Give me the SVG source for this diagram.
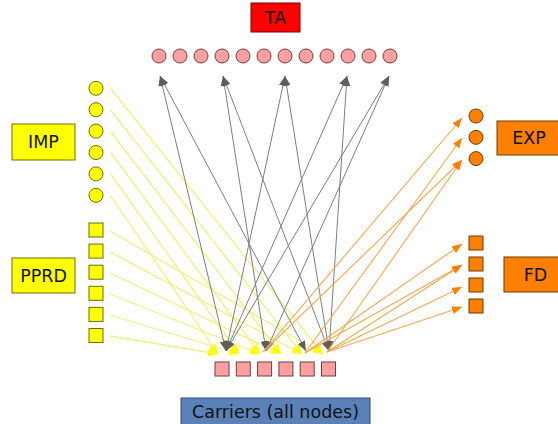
<svg xmlns="http://www.w3.org/2000/svg" width="558" height="424" viewBox="0 0 558 424">
  <style>
    .lbl { font-family: "DejaVu Sans", "Liberation Sans", sans-serif; font-size: 17.5px; fill: #111; text-anchor: middle; }
    .ta-node { fill: #ffa0a0; stroke: #7a3a3a; stroke-width: 1; }
    .car-node { fill: #ffa0a0; stroke: #6a4040; stroke-width: 1; }
    .imp-node { fill: #ffff00; stroke: #6e6e00; stroke-width: 1; }
    .exp-node { fill: #ff8000; stroke: #6e3a00; stroke-width: 1; }
    .y-edge { stroke: #f2ee82; stroke-width: 1.3; fill: none; marker-end: url(#ahY); }
    .g-edge { stroke: #7e7e7e; stroke-width: 1; fill: none; marker-end: url(#ahG); marker-start: url(#ahG); }
    .o-edge { stroke: #f2a950; stroke-width: 1.1; fill: none; marker-end: url(#ahO); }
  </style>
  <defs>
    <marker id="ahY" viewBox="0 0 10 8" refX="10" refY="4" markerWidth="10" markerHeight="8" markerUnits="userSpaceOnUse" orient="auto">
      <path d="M0,0 L10,4 L0,8 z" fill="#ffff00"/>
    </marker>
    <marker id="ahG" viewBox="0 0 10 8" refX="10" refY="4" markerWidth="10" markerHeight="8" markerUnits="userSpaceOnUse" orient="auto-start-reverse">
      <path d="M0,0 L10,4 L0,8 z" fill="#5e5e5e"/>
    </marker>
    <marker id="ahO" viewBox="0 0 10 8" refX="10" refY="4" markerWidth="10" markerHeight="8" markerUnits="userSpaceOnUse" orient="auto">
      <path d="M0,0 L10,4 L0,8 z" fill="#ff8000"/>
    </marker>
  </defs>

  <!-- connectors -->
  <g id="connectors">
    <!-- IMP -> carriers -->
    <line class="y-edge" x1="111" y1="89" x2="323" y2="354"/>
    <line class="y-edge" x1="111" y1="110.5" x2="302" y2="354"/>
    <line class="y-edge" x1="111" y1="132" x2="281" y2="354"/>
    <line class="y-edge" x1="111" y1="153" x2="260" y2="354"/>
    <line class="y-edge" x1="111" y1="174.5" x2="239" y2="354"/>
    <line class="y-edge" x1="111" y1="196" x2="218" y2="354"/>
    <!-- PPRD -> carriers -->
    <line class="y-edge" x1="110" y1="231" x2="323" y2="354"/>
    <line class="y-edge" x1="110" y1="252" x2="302" y2="354"/>
    <line class="y-edge" x1="110" y1="273" x2="281" y2="354"/>
    <line class="y-edge" x1="110" y1="294" x2="260" y2="354"/>
    <line class="y-edge" x1="110" y1="315" x2="239" y2="354"/>
    <line class="y-edge" x1="110" y1="336" x2="218" y2="354"/>
    <!-- carriers <-> TA -->
    <line class="g-edge" x1="226" y1="351" x2="160" y2="76"/>
    <line class="g-edge" x1="306" y1="351" x2="160" y2="76"/>
    <line class="g-edge" x1="266" y1="351" x2="223" y2="76"/>
    <line class="g-edge" x1="329" y1="351" x2="223" y2="76"/>
    <line class="g-edge" x1="226" y1="351" x2="285" y2="76"/>
    <line class="g-edge" x1="329" y1="351" x2="285" y2="76"/>
    <line class="g-edge" x1="226" y1="351" x2="347" y2="76"/>
    <line class="g-edge" x1="329" y1="351" x2="347" y2="76"/>
    <line class="g-edge" x1="226" y1="351" x2="389" y2="76"/>
    <line class="g-edge" x1="266" y1="351" x2="389" y2="76"/>
    <!-- carriers -> EXP -->
    <line class="o-edge" x1="263" y1="352" x2="462" y2="118"/>
    <line class="o-edge" x1="263" y1="352" x2="462" y2="160"/>
    <line class="o-edge" x1="305" y1="353" x2="462" y2="138"/>
    <line class="o-edge" x1="327" y1="352" x2="462" y2="160"/>
    <!-- carriers -> FD -->
    <line class="o-edge" x1="305" y1="353" x2="462" y2="244"/>
    <line class="o-edge" x1="305" y1="353" x2="462" y2="265"/>
    <line class="o-edge" x1="327" y1="352" x2="462" y2="265"/>
    <line class="o-edge" x1="327" y1="352" x2="462" y2="287"/>
    <line class="o-edge" x1="327" y1="352" x2="462" y2="307"/>
  </g>

  <!-- TA -->
  <g id="ta">
    <rect x="251" y="3" width="49" height="29" fill="#ff0000" stroke="#7a0000"/>
    <text class="lbl" x="275.5" y="24">TA</text>
    <circle class="ta-node" cx="159" cy="56" r="7"/>
    <circle class="ta-node" cx="180" cy="56" r="7"/>
    <circle class="ta-node" cx="201" cy="56" r="7"/>
    <circle class="ta-node" cx="222" cy="56" r="7"/>
    <circle class="ta-node" cx="243" cy="56" r="7"/>
    <circle class="ta-node" cx="264" cy="56" r="7"/>
    <circle class="ta-node" cx="285" cy="56" r="7"/>
    <circle class="ta-node" cx="306" cy="56" r="7"/>
    <circle class="ta-node" cx="327" cy="56" r="7"/>
    <circle class="ta-node" cx="348" cy="56" r="7"/>
    <circle class="ta-node" cx="369" cy="56" r="7"/>
    <circle class="ta-node" cx="390" cy="56" r="7"/>
  </g>

  <!-- IMP -->
  <g id="imp">
    <rect x="12" y="124" width="63" height="36" fill="#ffff00" stroke="#6e6e00"/>
    <text class="lbl" x="43.5" y="148">IMP</text>
    <circle class="imp-node" cx="96" cy="88.3" r="7"/>
    <circle class="imp-node" cx="96" cy="109.7" r="7"/>
    <circle class="imp-node" cx="96" cy="131.1" r="7"/>
    <circle class="imp-node" cx="96" cy="152.5" r="7"/>
    <circle class="imp-node" cx="96" cy="173.9" r="7"/>
    <circle class="imp-node" cx="96" cy="195.3" r="7"/>
  </g>

  <!-- PPRD -->
  <g id="pprd">
    <rect x="12" y="258" width="63" height="35" fill="#ffff00" stroke="#6e6e00"/>
    <text class="lbl" x="43.5" y="282">PPRD</text>
    <rect class="imp-node" x="89" y="223" width="14" height="14"/>
    <rect class="imp-node" x="89" y="244.1" width="14" height="14"/>
    <rect class="imp-node" x="89" y="265.2" width="14" height="14"/>
    <rect class="imp-node" x="89" y="286.3" width="14" height="14"/>
    <rect class="imp-node" x="89" y="307.4" width="14" height="14"/>
    <rect class="imp-node" x="89" y="328.5" width="14" height="14"/>
  </g>

  <!-- EXP -->
  <g id="exp">
    <rect x="497" y="121" width="70" height="34" fill="#ff8000" stroke="#6e3a00"/>
    <text class="lbl" x="529" y="144">EXP</text>
    <circle class="exp-node" cx="476" cy="116" r="7"/>
    <circle class="exp-node" cx="476" cy="137.3" r="7"/>
    <circle class="exp-node" cx="476" cy="158.6" r="7"/>
  </g>

  <!-- FD -->
  <g id="fd">
    <rect x="504" y="257" width="60" height="35" fill="#ff8000" stroke="#6e3a00"/>
    <text class="lbl" x="535.5" y="281">FD</text>
    <rect class="exp-node" x="469" y="236" width="14" height="14"/>
    <rect class="exp-node" x="469" y="257" width="14" height="14"/>
    <rect class="exp-node" x="469" y="278" width="14" height="14"/>
    <rect class="exp-node" x="469" y="299" width="14" height="14"/>
  </g>

  <!-- Carriers -->
  <g id="carriers">
    <rect class="car-node" x="215" y="362" width="14" height="14"/>
    <rect class="car-node" x="236.3" y="362" width="14" height="14"/>
    <rect class="car-node" x="257.6" y="362" width="14" height="14"/>
    <rect class="car-node" x="278.9" y="362" width="14" height="14"/>
    <rect class="car-node" x="300.2" y="362" width="14" height="14"/>
    <rect class="car-node" x="321.5" y="362" width="14" height="14"/>
    <rect x="181" y="398" width="189" height="30" fill="#5a82b8" stroke="#2f4a70"/>
    <text class="lbl" x="275.5" y="418">Carriers (all nodes)</text>
  </g>
</svg>
